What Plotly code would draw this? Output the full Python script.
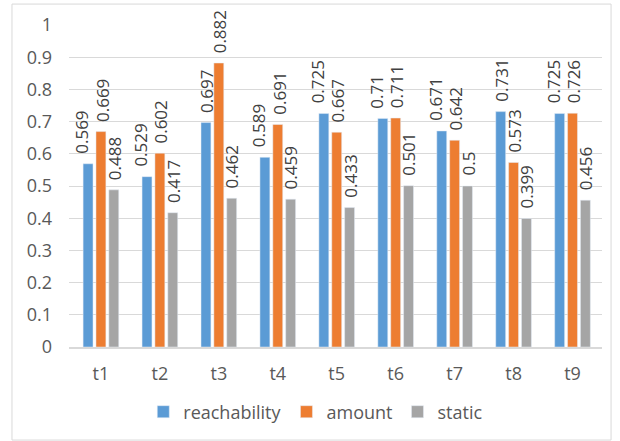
import plotly.graph_objects as go

categories = ["t1", "t2", "t3", "t4", "t5", "t6", "t7", "t8", "t9"]
reachability = [0.569, 0.529, 0.697, 0.589, 0.725, 0.71, 0.671, 0.731, 0.725]
amount = [0.669, 0.602, 0.882, 0.691, 0.667, 0.711, 0.642, 0.573, 0.726]
static = [0.488, 0.417, 0.462, 0.459, 0.433, 0.501, 0.5, 0.399, 0.456]
y_ticks = [0, 0.1, 0.2, 0.3, 0.4, 0.5, 0.6, 0.7, 0.8, 0.9, 1]
y_tick_labels = ["0", "0.1", "0.2", "0.3", "0.4", "0.5", "0.6", "0.7", "0.8", "0.9", "1"]

series = [("reachability", reachability, "#5B9BD5"),
          ("amount", amount, "#ED7D31"),
          ("static", static, "#A5A5A5")]

FONT = "Open Sans, sans-serif"
BARGAP, GROUPGAP = 0.345, 0.23
PLOT_W = 620 - 69 - 18
slot = PLOT_W / len(categories) * (1 - BARGAP) / 3

fig = go.Figure()
for name, vals, col in series:
    fig.add_trace(go.Bar(x=categories, y=vals, name=name, marker_color=col))

# data labels (rotated), nudged like Excel when neighbouring labels would collide
for si, (name, vals, col) in enumerate(series):
    for ci, (cat, v) in enumerate(zip(categories, vals)):
        dx = (si - 1) * slot
        if si == 0 and abs(amount[ci] - reachability[ci]) < 0.14:
            dx -= 6.5
        if si == 1:
            dx += 1
        fig.add_annotation(x=cat, y=v, xref="x", yref="y", text=f"{v:g}",
                           textangle=-90, showarrow=False, xanchor="center",
                           yanchor="bottom", xshift=dx, yshift=9, borderpad=0,
                           font=dict(family=FONT, size=17, color="#404040"))

fig.update_layout(
    width=620, height=441,
    margin=dict(l=69, r=18, t=25, b=94, autoexpand=False),
    paper_bgcolor="white", plot_bgcolor="white",
    barmode="group", bargap=BARGAP, bargroupgap=GROUPGAP,
    font=dict(family=FONT, color="#595959"),
    showlegend=True,
    legend=dict(orientation="h", x=0.463, xanchor="center",
                yref="container", y=(441 - 412) / 441, yanchor="middle",
                font=dict(size=18, color="#595959"), itemwidth=30, traceorder="normal"),
)
fig.update_yaxes(range=[0, 1], tickvals=y_ticks, ticktext=y_tick_labels,
                 showgrid=True, gridcolor="#D9D9D9", gridwidth=1,
                 zeroline=False, showline=False, ticks="", automargin=False,
                 ticklabelstandoff=16,
                 tickfont=dict(size=18, color="#595959"))
fig.update_xaxes(showline=True, linecolor="#D9D9D9", linewidth=1.5, ticks="", automargin=False,
                 ticklabelstandoff=10,
                 tickfont=dict(size=18, color="#595959"))

fig.add_shape(type="rect", xref="paper", yref="paper",
              x0=-0.107, x1=1.017, y0=-0.289, y1=1.065,
              line=dict(color="#D9D9D9", width=1), fillcolor="rgba(0,0,0,0)", layer="below")

fig.write_html("out.html", config={"displayModeBar": False},
               post_script="document.body.style.margin='0px';")
